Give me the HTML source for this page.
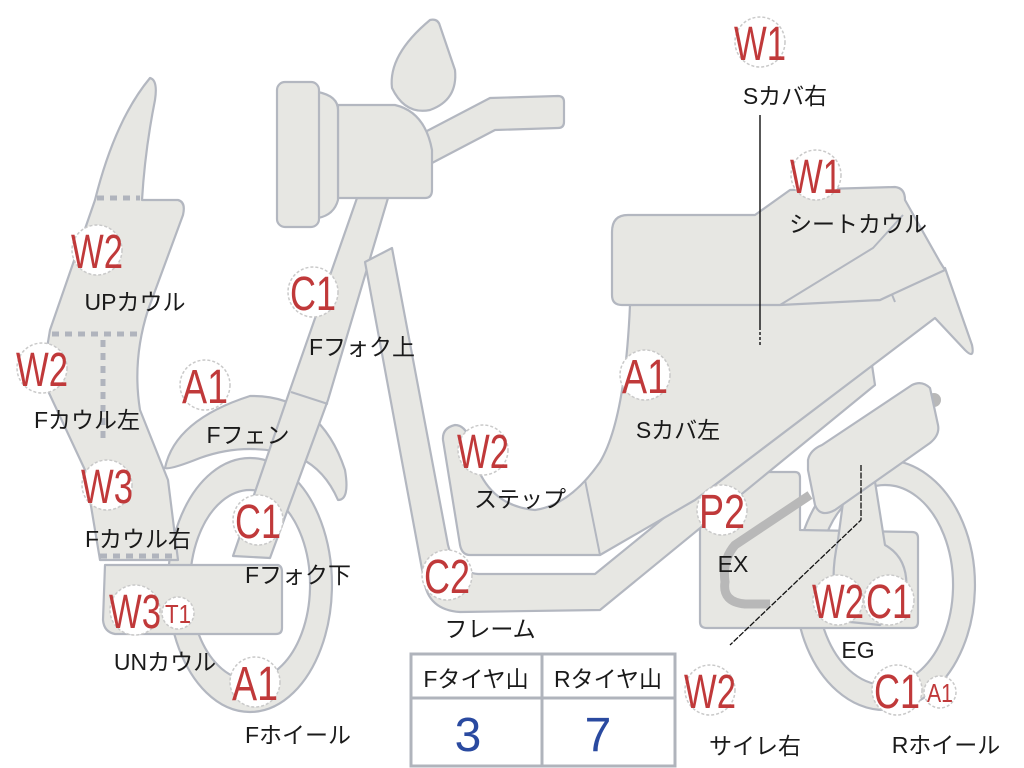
<!DOCTYPE html>
<html><head><meta charset="utf-8"><style>
html,body{margin:0;padding:0;background:#fff}
svg{display:block}
.p{fill:#e7e7e3;stroke:#b3b7c0;stroke-width:2.2;stroke-linejoin:round}
.c{fill:#fff;stroke:#c9c9c9;stroke-width:1.5;stroke-dasharray:3 2}
.r{fill:#c0393a;font-family:"Liberation Sans",sans-serif;font-size:48px}
.rs{fill:#c0393a;font-family:"Liberation Sans",sans-serif;font-size:26px}
.k{fill:#1a1a1a;font-family:"Liberation Sans","Noto Sans CJK JP",sans-serif;font-size:23px}
.d{stroke:#b0b4bd;stroke-width:5;stroke-dasharray:7 6;fill:none}
</style></head><body>
<svg width="1024" height="768" viewBox="0 0 1024 768" xmlns="http://www.w3.org/2000/svg">
<!-- front wheel -->
<path class="p" fill-rule="evenodd" d="M250 458 A82 127 0 1 1 249.9 458 Z M250 490 A60 95 0 1 0 250.1 490 Z"/>
<!-- fender -->
<path class="p" d="M165 468 Q175 420 250 396 Q320 395 345 470 Q350 500 338 500 Q325 470 300 458 Q250 440 200 458 Q170 470 165 468 Z"/>
<!-- front cowl -->
<path class="p" d="M150 78 Q158 80 155 100 Q145 150 142 200 L178 200 Q186 202 183 215 L148 310 Q132 360 140 410 L168 480 L178 560 L100 560 L85 470 L42 378 L50 330 L95 200 Q115 120 150 78 Z"/>
<path class="p" d="M105 565 L278 565 Q282 566 282 572 L282 628 Q282 634 276 634 L115 634 Q104 632 103 620 Z"/>
<path class="d" d="M97 198 L140 198 M52 334 L140 334 M103 340 L103 440 M100 556 L172 556"/>
<!-- fork -->
<path class="p" d="M233 556 L290 390 L357 198 L388 198 L328 400 L270 558 Z"/>
<path d="M291 392 L328 404" stroke="#b3b7c0" stroke-width="2"/>
<!-- handlebar -->
<path class="p" d="M425 132 L490 98 L558 96 Q564 96 564 102 L564 122 Q564 128 558 128 L495 130 L432 163 Z"/>
<path class="p" d="M430 20 Q438 18 440 26 L455 70 Q458 100 430 110 Q405 115 392 88 Q388 55 430 20 Z"/>
<path class="p" d="M338 105 L395 105 Q425 112 432 150 L432 190 Q432 198 425 198 L338 198 Z"/>
<path class="p" d="M318 92 Q338 96 338 110 L338 200 Q334 215 318 218 Z"/>
<rect class="p" x="277" y="82" width="42" height="145" rx="8"/>
<!-- rear wheel -->
<path class="p" fill-rule="evenodd" d="M885 460 A90 125 0 1 1 884.9 460 Z M885 485 A68 100 0 1 0 885.1 485 Z"/>
<!-- engine box -->
<path class="p" d="M707 472 L795 472 Q800 472 800 478 L800 530 L912 532 Q918 532 918 538 L918 622 Q918 628 912 628 L707 628 Q700 628 700 622 L700 478 Q700 472 707 472 Z"/>
<path class="p" d="M838 540 L850 450 L870 450 L885 545 Q912 560 905 600 L880 625 L850 622 Q825 600 838 540 Z"/>
<path d="M810 495 L735 545 Q722 560 725 582 Q722 602 745 604 L770 604" stroke="#b8b8b8" stroke-width="9" fill="none"/>
<circle cx="934" cy="400" r="7" fill="#b8b8b8"/>
<path class="p" d="M808 470 L808 460 Q810 450 822 445 L912 385 Q922 380 930 388 L938 425 Q940 435 930 443 L835 510 Q820 518 815 505 Z"/>
<!-- frame -->
<path class="p" d="M365 262 L392 248 L448 545 Q455 572 478 574 L595 574 L858 360 Q868 355 872 365 L875 385 L600 610 L460 612 Q428 610 424 580 Z"/>
<!-- body -->
<path class="p" d="M630 305 L880 300 L945 268 L972 345 Q975 360 965 350 L935 318 L695 500 L600 555 L470 555 Q462 555 460 545 L443 440 Q442 428 455 425 Q465 425 470 440 Q480 505 535 510 Q570 505 600 462 Q625 420 630 305 Z"/>
<path d="M585 480 L600 555 M873 248 L895 302" stroke="#b3b7c0" stroke-width="2" fill="none"/>
<!-- seat -->
<path class="p" d="M612 232 Q612 215 628 215 L755 215 L790 190 L895 187 Q905 188 905 200 L940 262 L945 270 L880 300 L780 305 L622 305 Q612 305 612 295 Z"/>
<path d="M780 305 L873 248 L903 215" stroke="#b3b7c0" stroke-width="2" fill="none"/>
<!-- lines -->
<path d="M760 115 L760 330" stroke="#111" stroke-width="1.4" fill="none"/>
<path d="M760 332 L760 346" stroke="#111" stroke-width="1.4" stroke-dasharray="3 2" fill="none"/>
<path d="M861 465 L861 520 L730 645" stroke="#111" stroke-width="1.3" stroke-dasharray="6 1.5" fill="none"/>
<!-- table -->
<rect x="411" y="654" width="264" height="112" fill="#fff" stroke="#b0b4bc" stroke-width="3"/>
<path d="M411 698 L675 698 M542 654 L542 766" stroke="#b0b4bc" stroke-width="3"/>
<text class="k" x="476" y="687" text-anchor="middle">Fタイヤ山</text>
<text class="k" x="608" y="687" text-anchor="middle">Rタイヤ山</text>
<text x="468" y="751" text-anchor="middle" fill="#2a4aa0" font-family="Liberation Sans,sans-serif" font-size="48">3</text>
<text x="598" y="751" text-anchor="middle" fill="#2a4aa0" font-family="Liberation Sans,sans-serif" font-size="48">7</text>
<!-- badges -->
<g>
<circle class="c" cx="760" cy="42" r="25"/><text class="r" x="760" y="60" text-anchor="middle" textLength="52" lengthAdjust="spacingAndGlyphs">W1</text>
<circle class="c" cx="816" cy="175" r="25"/><text class="r" x="816" y="193" text-anchor="middle" textLength="52" lengthAdjust="spacingAndGlyphs">W1</text>
<circle class="c" cx="97" cy="250" r="25"/><text class="r" x="97" y="268" text-anchor="middle" textLength="52" lengthAdjust="spacingAndGlyphs">W2</text>
<circle class="c" cx="42" cy="368" r="25"/><text class="r" x="42" y="386" text-anchor="middle" textLength="52" lengthAdjust="spacingAndGlyphs">W2</text>
<circle class="c" cx="205" cy="385" r="25"/><text class="r" x="205" y="403" text-anchor="middle" textLength="46" lengthAdjust="spacingAndGlyphs">A1</text>
<circle class="c" cx="313" cy="292" r="25"/><text class="r" x="313" y="310" text-anchor="middle" textLength="46" lengthAdjust="spacingAndGlyphs">C1</text>
<circle class="c" cx="645" cy="375" r="25"/><text class="r" x="645" y="393" text-anchor="middle" textLength="46" lengthAdjust="spacingAndGlyphs">A1</text>
<circle class="c" cx="483" cy="450" r="25"/><text class="r" x="483" y="468" text-anchor="middle" textLength="52" lengthAdjust="spacingAndGlyphs">W2</text>
<circle class="c" cx="107" cy="485" r="25"/><text class="r" x="107" y="503" text-anchor="middle" textLength="52" lengthAdjust="spacingAndGlyphs">W3</text>
<circle class="c" cx="258" cy="520" r="25"/><text class="r" x="258" y="538" text-anchor="middle" textLength="46" lengthAdjust="spacingAndGlyphs">C1</text>
<circle class="c" cx="722" cy="510" r="25"/><text class="r" x="722" y="528" text-anchor="middle" textLength="46" lengthAdjust="spacingAndGlyphs">P2</text>
<circle class="c" cx="447" cy="575" r="25"/><text class="r" x="447" y="593" text-anchor="middle" textLength="46" lengthAdjust="spacingAndGlyphs">C2</text>
<circle class="c" cx="135" cy="610" r="25"/><text class="r" x="135" y="628" text-anchor="middle" textLength="52" lengthAdjust="spacingAndGlyphs">W3</text>
<circle class="c" cx="178" cy="613" r="16"/><text class="rs" x="178" y="623" text-anchor="middle" textLength="26" lengthAdjust="spacingAndGlyphs">T1</text>
<circle class="c" cx="838" cy="600" r="25"/><text class="r" x="838" y="618" text-anchor="middle" textLength="52" lengthAdjust="spacingAndGlyphs">W2</text>
<circle class="c" cx="889" cy="600" r="25"/><text class="r" x="889" y="618" text-anchor="middle" textLength="46" lengthAdjust="spacingAndGlyphs">C1</text>
<circle class="c" cx="255" cy="682" r="25"/><text class="r" x="255" y="700" text-anchor="middle" textLength="46" lengthAdjust="spacingAndGlyphs">A1</text>
<circle class="c" cx="710" cy="690" r="25"/><text class="r" x="710" y="708" text-anchor="middle" textLength="52" lengthAdjust="spacingAndGlyphs">W2</text>
<circle class="c" cx="897" cy="690" r="25"/><text class="r" x="897" y="708" text-anchor="middle" textLength="46" lengthAdjust="spacingAndGlyphs">C1</text>
<circle class="c" cx="940" cy="692" r="16"/><text class="rs" x="940" y="702" text-anchor="middle" textLength="26" lengthAdjust="spacingAndGlyphs">A1</text>
</g>
<!-- labels -->
<g class="k" text-anchor="middle">
<text x="785" y="104">Sカバ右</text>
<text x="858" y="232">シートカウル</text>
<text x="135" y="310">UPカウル</text>
<text x="87" y="428">Fカウル左</text>
<text x="248" y="443">Fフェン</text>
<text x="362" y="355">Fフォク上</text>
<text x="678" y="438">Sカバ左</text>
<text x="520" y="507">ステップ</text>
<text x="138" y="547">Fカウル右</text>
<text x="298" y="583">Fフォク下</text>
<text x="733" y="572">EX</text>
<text x="490" y="637">フレーム</text>
<text x="165" y="670">UNカウル</text>
<text x="858" y="658">EG</text>
<text x="298" y="743">Fホイール</text>
<text x="755" y="754">サイレ右</text>
<text x="946" y="753">Rホイール</text>
</g>
</svg>
</body></html>
